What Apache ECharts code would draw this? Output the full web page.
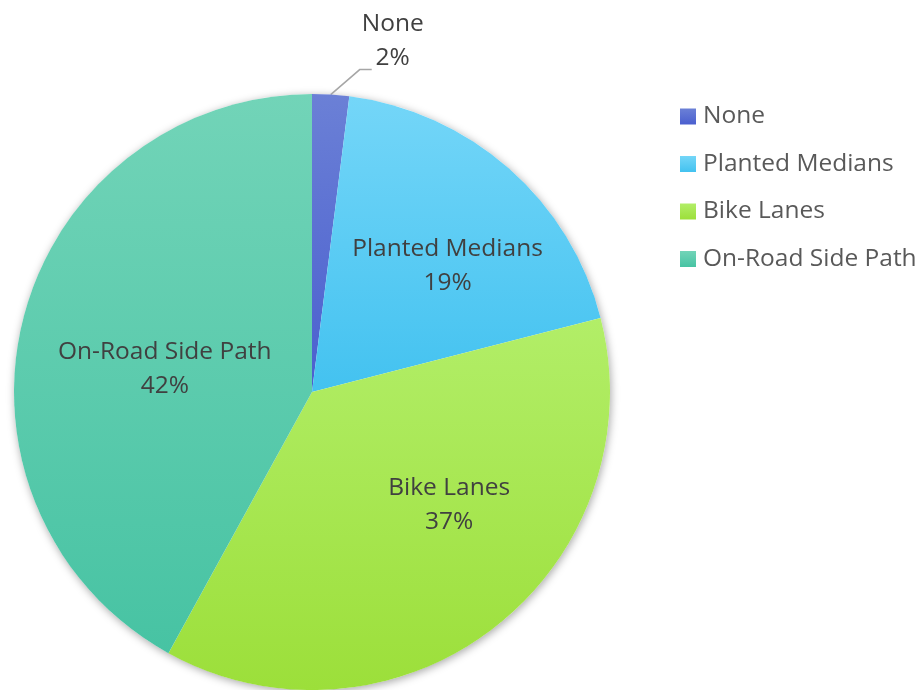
<!DOCTYPE html>
<html>
<head>
<meta charset="utf-8">
<script src="https://cdn.jsdelivr.net/npm/echarts@6/dist/echarts.min.js"></script>
<style>
  html, body { margin: 0; padding: 0; background: #fff; }
  #chart { width: 918px; height: 690px; }
</style>
</head>
<body>
<div id="chart"></div>
<script>
// Share of treatment types
const categories = ['None', 'Planted Medians', 'Bike Lanes', 'On-Road Side Path'];
const shares = [2, 19, 37, 42];

// Per-slice vertical gradients (top, bottom)
const gradTop = ['#6b80d6', '#74d6f8', '#b2ee68', '#72d4b8'];
const gradBottom = ['#4a5fcf', '#43c2f0', '#9cdf3a', '#47c3a3'];
// Nudges for the inside labels
const labelOffsets = [[0, 0], [35, -12], [44, -7], [0, 15]];

const FONT = 'Open Sans';
const FONT_SIZE = 24.5;
const center = [312, 392];
const radius = 298;

function grad(i) {
  return new echarts.graphic.LinearGradient(0, 0, 0, 1, [
    { offset: 0, color: gradTop[i] },
    { offset: 1, color: gradBottom[i] }
  ]);
}

const sliceData = categories.map((name, i) => {
  const item = {
    name: name,
    value: shares[i],
    itemStyle: { color: grad(i) }
  };
  if (i === 0) {
    item.label = { position: 'outside' };
    item.labelLine = {
      show: true,
      length: 20,
      length2: 12,
      lineStyle: { color: '#a6a6a6', width: 1.5 }
    };
  } else {
    item.label = { position: 'inside', offset: labelOffsets[i] };
    item.labelLine = { show: false };
  }
  return item;
});

const chart = echarts.init(document.getElementById('chart'), null, { renderer: 'canvas' });
chart.setOption({
  animation: false,
  backgroundColor: '#ffffff',
  legend: {
    data: categories,
    orient: 'vertical',
    left: 680,
    top: 104,
    padding: 0,
    itemWidth: 16,
    itemHeight: 16,
    itemGap: 22.5,
    icon: 'rect',
    textStyle: { fontFamily: FONT, fontSize: FONT_SIZE, color: '#595959', padding: [0, 0, 0, 2] },
    selectedMode: false
  },
  series: [
    {
      // soft drop shadow under the whole disc
      type: 'pie',
      silent: true,
      center: center,
      radius: radius,
      z: 1,
      label: { show: false },
      labelLine: { show: false },
      data: [{ name: '', value: 1, itemStyle: { color: '#ffffff', shadowBlur: 8, shadowColor: 'rgba(0,0,0,0.35)', shadowOffsetX: 1, shadowOffsetY: 2 } }]
    },
    {
      type: 'pie',
      center: center,
      radius: radius,
      startAngle: 90,
      clockwise: true,
      z: 2,
      avoidLabelOverlap: false,
      label: {
        show: true,
        formatter: '{b}\n{d}%',
        fontFamily: FONT,
        fontSize: FONT_SIZE,
        lineHeight: 34,
        color: '#404040',
        align: 'center'
      },
      // the small slice gets an elbow leader starting from its edge anchor
      labelLayout: function (params) {
        if (params.dataIndex !== 0 || !params.labelLinePoints) return {};
        const p0 = params.labelLinePoints[0];
        const p1 = [p0[0] + 29, p0[1] - 25];
        const p2 = [p1[0] + 12, p1[1]];
        return {
          x: p2[0] + 21,
          y: p2[1] + 5,
          align: 'center',
          verticalAlign: 'bottom',
          labelLinePoints: [p0, p1, p2]
        };
      },
      emphasis: { disabled: true },
      itemStyle: { borderWidth: 0 },
      data: sliceData
    }
  ]
});
</script>
</body>
</html>
